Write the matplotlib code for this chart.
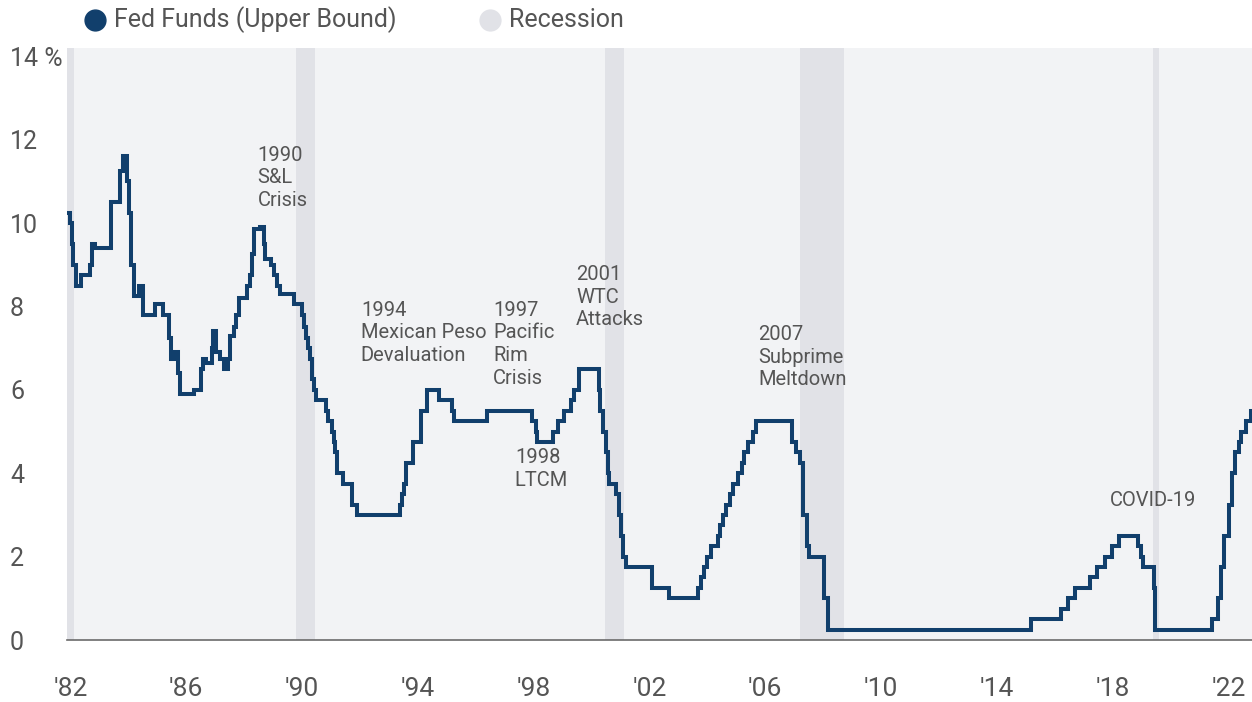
import matplotlib
matplotlib.use("Agg")
import matplotlib.pyplot as plt
import pandas as pd
from matplotlib.lines import Line2D

# Fed funds target (upper bound) - date of each change and the new level
change_dates = [
    "1982-08-01", "1982-09-05", "1982-10-01", "1982-10-20", "1982-11-20",
    "1983-02-01", "1983-05-15", "1983-06-20", "1983-07-20",
    "1984-02-15", "1984-05-30", "1984-07-15", "1984-08-25", "1984-09-25",
    "1984-10-20", "1984-11-20",
    "1985-01-25", "1985-03-25", "1985-08-18", "1985-11-24",
    "1986-02-05", "1986-03-10", "1986-04-25", "1986-06-01", "1986-07-05",
    "1986-12-20",
    "1987-03-20", "1987-04-20", "1987-05-25", "1987-08-01", "1987-08-25",
    "1987-09-25", "1987-11-20",
    "1988-01-10", "1988-02-25", "1988-03-25", "1988-05-10", "1988-06-10",
    "1988-07-10", "1988-10-20", "1988-11-25", "1988-12-25",
    "1989-01-20", "1989-04-01", "1989-05-20", "1989-06-05", "1989-08-20",
    "1989-10-01", "1989-11-10", "1989-12-10",
    "1990-06-10", "1990-09-10", "1990-10-15", "1990-11-10", "1990-11-25",
    "1990-12-20",
    "1991-01-15", "1991-02-10", "1991-03-05", "1991-07-20", "1991-08-15",
    "1991-09-25", "1991-10-25", "1991-11-10", "1991-11-25",
    "1992-02-20", "1992-06-05", "1992-08-10",
    "1994-02-01", "1994-02-25", "1994-03-20", "1994-04-15", "1994-07-20",
    "1994-10-20",
    "1995-01-05", "1995-06-15", "1995-11-20", "1995-12-10",
    "1997-02-10",
    "1998-09-01", "1998-10-10", "1998-10-25",
    "1999-05-20", "1999-07-15", "1999-10-10",
    "2000-01-05", "2000-02-10", "2000-04-10", "2000-12-20",
    "2001-01-01", "2001-02-10", "2001-03-15", "2001-04-05", "2001-04-25",
    "2001-07-20", "2001-08-25", "2001-09-25", "2001-10-20", "2001-11-25",
    "2002-10-20", "2003-05-20",
    "2004-05-20", "2004-06-25", "2004-08-05", "2004-09-15", "2004-10-25",
    "2005-01-25", "2005-02-20", "2005-04-05", "2005-05-05", "2005-06-25",
    "2005-08-01", "2005-10-10", "2005-11-25", "2005-12-25",
    "2006-02-15", "2006-04-15", "2006-05-25",
    "2007-08-25", "2007-10-05", "2007-11-25",
    "2008-01-05", "2008-02-25", "2008-03-25", "2008-09-25", "2008-11-15",
    "2015-11-25", "2016-12-01",
    "2017-02-25", "2017-05-25", "2017-12-01",
    "2018-02-25", "2018-06-05", "2018-09-05", "2018-12-05",
    "2019-08-01", "2019-09-10", "2019-10-05",
    "2020-02-20", "2020-03-05",
    "2022-02-20", "2022-05-01", "2022-06-15", "2022-07-15", "2022-09-20",
    "2022-10-25", "2022-12-01",
    "2023-01-20", "2023-02-20", "2023-04-25", "2023-06-25", "2023-07-31",
]
fed_funds_upper = [
    10.25, 10.0, 9.5, 9.0, 8.5,
    8.75, 9.0, 9.5, 9.4,
    10.5, 11.25, 11.6, 11.0, 10.25,
    9.0, 8.25,
    8.5, 7.8, 8.05, 7.8,
    7.25, 6.75, 6.9, 6.4, 5.9,
    6.0,
    6.5, 6.75, 6.65, 7.0, 7.4,
    6.9, 6.75,
    6.5, 6.75, 7.3, 7.5, 7.8,
    8.2, 8.5, 8.75, 9.25,
    9.85, 9.9, 9.5, 9.15, 9.0,
    8.75, 8.5, 8.3,
    8.05, 7.8, 7.5, 7.25, 7.0,
    6.75,
    6.25, 6.0, 5.75, 5.5, 5.25,
    5.0, 4.75, 4.5, 4.0,
    3.75, 3.25, 3.0,
    3.25, 3.5, 3.75, 4.25, 4.75,
    5.5,
    6.0, 5.75, 5.5, 5.25,
    5.5,
    5.25, 5.0, 4.75,
    5.0, 5.25, 5.5,
    5.75, 6.0, 6.5, 6.0,
    5.5, 5.0, 4.5, 4.0, 3.75,
    3.5, 3.0, 2.5, 2.0, 1.75,
    1.25, 1.0,
    1.25, 1.5, 1.75, 2.0, 2.25,
    2.5, 2.75, 3.0, 3.25, 3.5,
    3.75, 4.0, 4.25, 4.5,
    4.75, 5.0, 5.25,
    4.75, 4.5, 4.25,
    3.0, 2.25, 2.0, 1.0, 0.25,
    0.5, 0.75,
    1.0, 1.25, 1.5,
    1.75, 2.0, 2.25, 2.5,
    2.25, 2.0, 1.75,
    1.25, 0.25,
    0.5, 1.0, 1.75, 2.5, 3.25,
    4.0, 4.5,
    4.75, 5.0, 5.25, 5.5, 5.5,
]

recession_starts = ["1981-07-01", "1990-07-01", "2001-03-01", "2007-12-01", "2020-02-01"]
recession_ends = ["1982-11-01", "1991-03-01", "2001-11-01", "2009-06-01", "2020-04-20"]

tick_dates = ["1982-09-15", "1986-09-15", "1990-09-15", "1994-09-15", "1998-09-15", "2002-09-15",
              "2006-09-15", "2010-09-15", "2014-09-15", "2018-09-15", "2022-09-15"]
tick_labels = ["'82", "'86", "'90", "'94", "'98", "'02", "'06", "'10", "'14", "'18", "'22"]
y_ticks = [0, 2, 4, 6, 8, 10, 12, 14]
y_labels = ["0", "2", "4", "6", "8", "10", "12", "14 %"]

event_labels = ["1990\nS&L\nCrisis", "1994\nMexican Peso\nDevaluation", "1997\nPacific\nRim\nCrisis",
                "1998\nLTCM", "2001\nWTC\nAttacks", "2007\nSubprime\nMeltdown", "COVID-19"]
event_x = ["1989-03-06", "1992-09-27", "1997-04-20", "1998-01-22", "2000-03-03", "2006-06-18", "2018-08-14"]
event_y = [11.86, 8.14, 8.14, 4.61, 9.0, 7.56, 3.58]

LINE_COLOR = "#113f6c"
BAND_COLOR = "#e1e2e7"
PANEL_COLOR = "#f2f3f5"
TEXT_COLOR = "#555555"

plt.rcParams["font.family"] = ["Roboto", "DejaVu Sans"]

fig = plt.figure(figsize=(12.52, 7.02), dpi=100)
ax = fig.add_axes([67 / 1252, 62 / 702, 1 - 67 / 1252, 592 / 702])
ax.set_facecolor(PANEL_COLOR)

for s, e in zip(recession_starts, recession_ends):
    ax.axvspan(pd.Timestamp(s), pd.Timestamp(e), color=BAND_COLOR, lw=0, zorder=1)

ax.plot(pd.to_datetime(change_dates), fed_funds_upper, drawstyle="steps-post",
        color=LINE_COLOR, lw=2.9, zorder=3, solid_joinstyle="miter")

for txt, x, y in zip(event_labels, event_x, event_y):
    ax.text(pd.Timestamp(x), y, txt, ha="left", va="top", fontsize=14.5,
            color=TEXT_COLOR, linespacing=1.25, zorder=4)

ax.set_xlim(pd.Timestamp("1982-08-04"), pd.Timestamp("2023-07-09"))
ax.set_ylim(0, 14.2)

ax.set_xticks(pd.to_datetime(tick_dates))
ax.set_xticklabels(tick_labels)
ax.set_yticks(y_ticks)
ax.set_yticklabels(y_labels)
ax.tick_params(axis="x", length=0, pad=27, labelsize=19, labelcolor=TEXT_COLOR)
ax.tick_params(axis="y", length=0, pad=41, labelsize=18, labelcolor=TEXT_COLOR)
for lbl in ax.get_yticklabels():
    lbl.set_horizontalalignment("left")

for side in ["top", "right", "left"]:
    ax.spines[side].set_visible(False)
ax.spines["bottom"].set_color("#6b6b6b")
ax.spines["bottom"].set_linewidth(1.2)
ax.spines["bottom"].set_zorder(5)

# legend drawn by hand at the top
leg_y = 1 - 20 / 702
fig.add_artist(Line2D([95 / 1252], [leg_y], marker="o", markersize=15, color=LINE_COLOR,
                      transform=fig.transFigure, lw=0))
fig.text(114 / 1252, leg_y, "Fed Funds (Upper Bound)", fontsize=18, color=TEXT_COLOR, va="center")
fig.add_artist(Line2D([490 / 1252], [leg_y], marker="o", markersize=15, color=BAND_COLOR,
                      transform=fig.transFigure, lw=0))
fig.text(509 / 1252, leg_y, "Recession", fontsize=18, color=TEXT_COLOR, va="center")

fig.savefig("out.png", dpi=100, facecolor="white")
